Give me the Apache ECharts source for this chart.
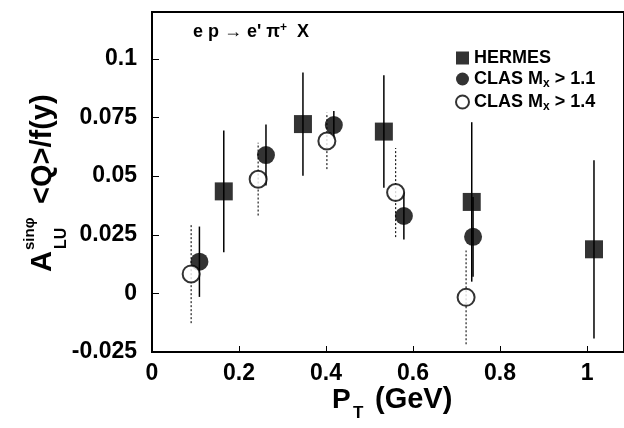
<!DOCTYPE html>
<html>
<head>
<meta charset="utf-8">
<script src="https://cdn.jsdelivr.net/npm/echarts@6/dist/echarts.min.js"></script>
<style>
  html, body { margin: 0; padding: 0; background: #fff; }
  #chart { width: 624px; height: 428px; }
</style>
</head>
<body>
<div id="chart"></div>
<script>
// Beam-spin asymmetry vs. transverse momentum of the pi+
var hermesPt   = [0.165, 0.347, 0.533, 0.735, 1.016];
var hermesA    = [0.0435, 0.0722, 0.069, 0.039, 0.0188];
var hermesErr  = [0.026, 0.022, 0.024, 0.034, 0.038];

var clas11Pt   = [0.109, 0.262, 0.418, 0.579, 0.738];
var clas11A    = [0.0135, 0.059, 0.0718, 0.033, 0.0241];
var clas11Err  = [0.015, 0.013, 0.006, 0.010, 0.017];

var clas14Pt   = [0.09, 0.244, 0.402, 0.56, 0.722];
var clas14A    = [0.0083, 0.0487, 0.065, 0.043, -0.0017];
var clas14Err  = [0.021, 0.0155, 0.012, 0.019, 0.020];

var xTicks = [0, 0.2, 0.4, 0.6, 0.8, 1];
var yTicks = [-0.025, 0, 0.025, 0.05, 0.075, 0.1];

var FONT = "'Liberation Sans', Arial, Helvetica, sans-serif";

function points(xs, ys) {
  return xs.map(function (x, i) { return [x, ys[i]]; });
}

function errorBars(name, xs, ys, es, lineStyle) {
  return {
    name: name + ' err',
    type: 'custom',
    silent: true,
    z: 1,
    data: xs.map(function (x, i) { return [x, ys[i] - es[i], ys[i] + es[i]]; }),
    encode: { x: 0, y: [1, 2] },
    renderItem: function (params, api) {
      var lo = api.coord([api.value(0), api.value(1)]);
      var hi = api.coord([api.value(0), api.value(2)]);
      return {
        type: 'line',
        shape: { x1: lo[0], y1: lo[1], x2: hi[0], y2: hi[1] },
        style: lineStyle
      };
    }
  };
}

function tickLabel(list, eps) {
  return function (v) {
    for (var i = 0; i < list.length; i++) {
      if (Math.abs(v - list[i]) < eps) return String(list[i]);
    }
    return '';
  };
}

var legendNames = {
  'HERMES': 'HERMES',
  'CLAS Mx > 1.1': 'CLAS M{sub|x} > 1.1',
  'CLAS Mx > 1.4': 'CLAS M{sub|x} > 1.4'
};

var chart = echarts.init(document.getElementById('chart'), null, { renderer: 'canvas' });

chart.setOption({
  animation: false,
  backgroundColor: '#fff',
  grid: {
    left: 152, right: -2, top: 12, bottom: 76,
    show: true, borderColor: '#000', borderWidth: 2, backgroundColor: 'transparent'
  },
  xAxis: {
    type: 'value',
    min: 0, max: 1.085, interval: 0.2,
    axisLine: { show: true, onZero: false, lineStyle: { color: '#000', width: 2 } },
    axisTick: { show: true, inside: true, length: 6, lineStyle: { color: '#000', width: 1 } },
    splitLine: { show: false },
    axisLabel: {
      showMaxLabel: false,
      margin: 10,
      color: '#000',
      fontFamily: FONT, fontWeight: 'bold', fontSize: 23,
      formatter: tickLabel(xTicks, 1e-6)
    }
  },
  yAxis: {
    type: 'value',
    min: -0.025, max: 0.12, interval: 0.025,
    axisLine: { show: true, onZero: false, lineStyle: { color: '#000', width: 2 } },
    axisTick: { show: true, inside: true, length: 7, lineStyle: { color: '#000', width: 1 } },
    splitLine: { show: false },
    axisLabel: {
      showMaxLabel: false,
      margin: 15,
      color: '#000',
      fontFamily: FONT, fontWeight: 'bold', fontSize: 23,
      formatter: tickLabel(yTicks, 1e-9)
    }
  },
  legend: {
    data: [
      { name: 'HERMES', icon: 'rect' },
      { name: 'CLAS Mx > 1.1', icon: 'circle' },
      { name: 'CLAS Mx > 1.4', icon: 'circle' }
    ],
    orient: 'vertical',
    left: 450, top: 44,
    itemGap: 3,
    itemWidth: 13, itemHeight: 13,
    selectedMode: false,
    formatter: function (name) { return legendNames[name]; },
    textStyle: {
      color: '#000', fontFamily: FONT, fontWeight: 'bold', fontSize: 18,
      rich: {
        sub: { fontFamily: FONT, fontWeight: 'bold', fontSize: 12, padding: [10, 0, 0, 0] }
      }
    }
  },
  graphic: [
    {
      type: 'text', left: 193, top: 22,
      style: {
        text: "e p \u2192 e' \u03c0{sup|+}  X",
        font: 'bold 18px ' + FONT, fill: '#000',
        rich: { sup: { font: 'bold 12px ' + FONT, padding: [0, 0, 9, 0] } }
      }
    },
    {
      type: 'group', x: 332, y: 414,
      children: [
        { type: 'text', x: 0, y: 0, style: { text: 'P', font: 'bold 28px ' + FONT, fill: '#000', verticalAlign: 'bottom' } },
        { type: 'text', x: 21, y: 8, style: { text: 'T', font: 'bold 17px ' + FONT, fill: '#000', verticalAlign: 'bottom' } },
        { type: 'text', x: 43, y: 0, style: { text: '(GeV)', font: 'bold 29px ' + FONT, fill: '#000', verticalAlign: 'bottom' } }
      ]
    },
    {
      type: 'group', x: 43, y: 272, rotation: Math.PI / 2,
      children: [
        { type: 'text', x: 0, y: 0, style: { text: 'A', font: 'bold 29px ' + FONT, fill: '#000', verticalAlign: 'middle' } },
        { type: 'text', x: 22, y: -13, style: { text: 'sin\u03c6', font: 'bold 15px ' + FONT, fill: '#000', verticalAlign: 'middle' } },
        { type: 'text', x: 23, y: 19, style: { text: 'LU', font: 'bold 16px ' + FONT, fill: '#000', verticalAlign: 'middle' } },
        { type: 'text', x: 68, y: 0, style: { text: '<Q>/f(y)', font: 'bold 29px ' + FONT, fill: '#000', verticalAlign: 'middle' } }
      ]
    }
  ],
  series: [
    errorBars('HERMES', hermesPt, hermesA, hermesErr, { stroke: '#000', lineWidth: 1.5 }),
    errorBars('CLAS Mx > 1.1', clas11Pt, clas11A, clas11Err, { stroke: '#000', lineWidth: 1.5 }),
    errorBars('CLAS Mx > 1.4', clas14Pt, clas14A, clas14Err, { stroke: '#222', lineWidth: 1.2, lineDash: [2, 2] }),
    {
      name: 'HERMES', type: 'scatter', z: 3,
      symbol: 'rect', symbolSize: 18,
      itemStyle: { color: '#000' },
      data: points(hermesPt, hermesA)
    },
    {
      name: 'CLAS Mx > 1.1', type: 'scatter', z: 3,
      symbol: 'circle', symbolSize: 18,
      itemStyle: { color: '#000' },
      data: points(clas11Pt, clas11A)
    },
    {
      name: 'CLAS Mx > 1.4', type: 'scatter', z: 4,
      symbol: 'circle', symbolSize: 17,
      itemStyle: { color: '#fff', borderColor: '#000', borderWidth: 2 },
      data: points(clas14Pt, clas14A)
    }
  ]
});
</script>
</body>
</html>
